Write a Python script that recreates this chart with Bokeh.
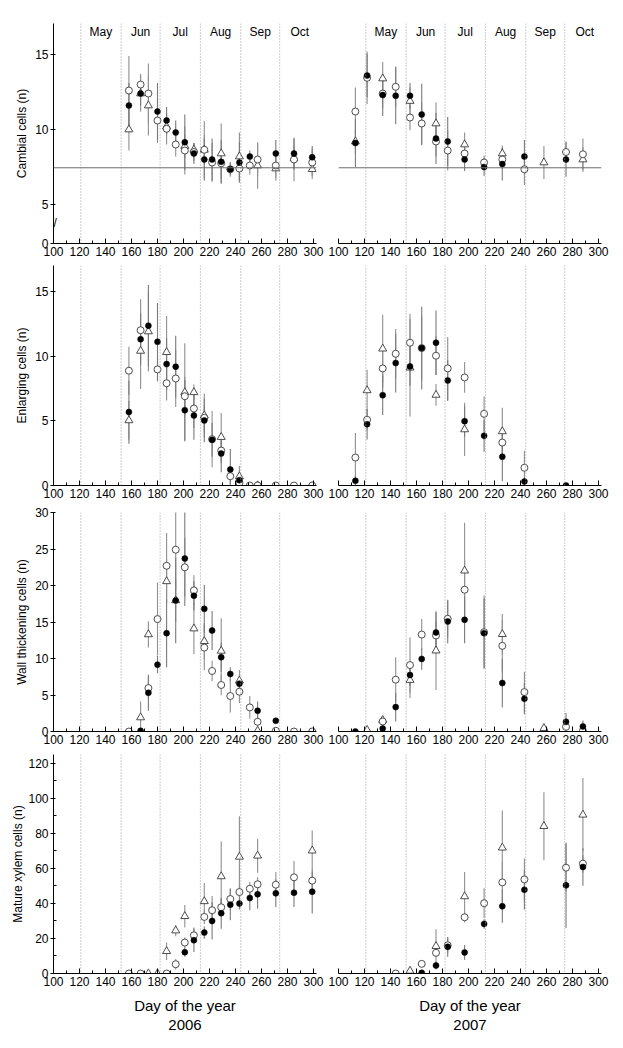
import numpy as np
from bokeh.plotting import figure
from bokeh.layouts import column, row
from bokeh.models import Span, FixedTicker, Label, Title
from bokeh.core.properties import value
from bokeh.embed import file_html
from bokeh.resources import INLINE

nan = float("nan")
FONT = "Liberation Sans"

# ---------------- data ----------------
days_2006 = [158, 167, 173, 180, 187, 194, 201, 208, 216, 222, 229, 236, 243, 251, 257, 271, 285, 299]
days_2007 = [113, 122, 134, 144, 155, 164, 175, 184, 197, 212, 226, 243, 258, 275, 288]

month_names = ["May", "Jun", "Jul", "Aug", "Sep", "Oct"]
month_starts = [121, 152, 182, 213, 244, 274, 305]
cambial_reference = 7.45

x_ticks = list(range(100, 301, 20))
x_minor = list(range(110, 300, 20))

# Cambial cells 2006
cam06_filled = [11.6, 12.4, nan, 11.2, 10.6, 9.8, 9.15, 8.4, 8.0, 8.0, 7.85, 7.35, 7.8, 8.2, nan, 8.4, 8.4, 8.15]
cam06_filled_sd = [1.5, 0.8, nan, 1.9, 0.9, 0.8, 1.85, 0.7, 1.4, 1.4, 1.45, 0.4, 1.35, 0.4, nan, 0.9, 1.0, 0.75]
cam06_open = [12.6, 13.0, 12.4, 10.6, 10.05, 9.0, 8.6, 8.5, 8.65, 7.8, 7.75, 7.35, 7.4, 7.6, 8.0, 7.6, 8.0, 7.8]
cam06_open_sd = [2.3, 0.7, 2.0, 1.5, 1.05, 0.8, 1.6, 0.6, 1.9, 1.3, 1.0, 0.5, 0.8, 0.6, 1.1, 0.8, 1.45, 0.9]
cam06_tri = [10.0, 12.4, 11.6, nan, 10.2, nan, 8.9, 8.65, 8.65, nan, 8.4, nan, 8.2, nan, 7.6, 7.4, 8.1, 7.35]
cam06_tri_sd = [1.4, 1.2, 2.0, nan, 0.6, nan, 0.8, 0.45, 1.0, nan, 2.0, nan, 1.6, nan, 1.55, 0.8, 0.8, 0.65]

# Cambial cells 2007
cam07_filled = [9.1, 13.6, 12.3, 12.25, 12.25, 11.0, 9.4, 9.2, 8.0, 7.5, 7.7, 8.2, nan, 8.0, nan]
cam07_filled_sd = [1.6, 1.45, 1.4, 1.9, 0.85, 2.05, 1.7, 1.64, 0.76, 0.6, 1.1, 1.1, nan, 1.15, nan]
cam07_open = [11.2, 13.45, 12.4, 12.85, 10.8, 10.4, 9.2, 8.6, 8.4, 7.8, 8.0, 7.35, nan, 8.5, 8.35]
cam07_open_sd = [1.6, 1.75, 1.0, 1.35, 0.85, 1.4, 1.0, 1.33, 0.6, 0.47, 0.6, 1.05, nan, 0.7, 1.05]
cam07_tri = [9.2, nan, 13.4, nan, 11.9, nan, 10.4, nan, 9.0, nan, 8.4, nan, 7.8, nan, 8.0]
cam07_tri_sd = [0.8, nan, 1.1, nan, 0.9, nan, 1.4, nan, 0.8, nan, 0.53, nan, 1.1, nan, 0.84]

# Enlarging cells 2006
enl06_filled = [5.67, 11.3, 12.35, 11.1, 9.38, 9.18, 5.82, 5.41, 5.03, 3.53, 2.47, 1.24, 0.41, nan, nan, nan, nan, nan]
enl06_filled_sd = [2.45, 2.0, 3.15, 3.0, 2.0, 2.39, 2.34, 1.88, 1.68, 1.3, 1.44, 1.59, 0.4, nan, nan, nan, nan, nan]
enl06_open = [8.87, 12.0, nan, 8.97, 7.9, 8.27, 6.9, 5.95, 5.23, 3.58, 2.7, 0.72, 0.2, 0, 0, 0, 0, 0]
enl06_open_sd = [1.85, 2.4, nan, 0.93, 1.33, 2.2, 1.5, 1.5, 1.0, 2.17, 1.0, 0.6, 0.2, 0, 0, 0, 0, 0]
enl06_tri = [5.03, 10.4, 11.9, nan, 10.3, nan, 7.2, 7.2, 5.41, nan, 3.74, nan, 0.7, nan, 0, nan, nan, nan]
enl06_tri_sd = [1.5, 2.95, 3.1, nan, 2.8, nan, 3.8, 0.6, 1.69, nan, 1.86, nan, 0.8, nan, 0, nan, nan, nan]

# Enlarging cells 2007
enl07_filled = [0.36, 4.74, 6.98, 9.46, 9.2, 10.62, 11.03, 8.12, 4.97, 3.84, 2.22, 0.31, nan, 0, nan]
enl07_filled_sd = [0.4, 1.18, 1.54, 2.27, 1.5, 3.2, 2.5, 1.6, 1.2, 1.24, 1.89, 0.3, nan, 0, nan]
enl07_open = [2.16, 5.08, 9.05, 10.18, 11.03, 10.62, 10.03, 9.05, 8.35, 5.54, 3.32, 1.37, nan, nan, nan]
enl07_open_sd = [1.89, 0.8, 1.5, 1.92, 2.24, 2.5, 1.5, 2.42, 1.19, 1.34, 1.2, 1.31, nan, nan, nan]
enl07_tri = [nan, 7.35, 10.57, nan, 9.1, nan, 7.0, nan, 4.33, nan, 4.18, nan, nan, nan, nan]
enl07_tri_sd = [nan, 1.59, 2.63, nan, 3.76, nan, 0.84, nan, 2.06, nan, 1.82, nan, nan, nan, nan]

# Wall thickening cells 2006
wal06_filled = [nan, 0.1, 5.3, 9.16, 13.47, 17.96, 23.7, 18.6, 16.8, 13.83, 10.17, 7.88, 6.55, nan, 2.84, 1.47, nan, nan]
wal06_filled_sd = [nan, 0.3, 2.46, 1.19, 4.67, 5.86, 6.5, 2.0, 3.3, 2.67, 2.0, 0.92, 1.0, nan, 1.26, 0.3, nan, nan]
wal06_open = [0, nan, 5.95, 15.4, 22.7, 24.9, 22.5, 19.33, 11.5, 8.29, 6.37, 4.86, 5.45, 3.3, 1.33, 0.1, 0, 0]
wal06_open_sd = [0, nan, 1.5, 5.0, 4.5, 5.5, 4.0, 2.07, 3.1, 1.39, 1.42, 2.26, 1.55, 1.55, 1.33, 0, 0, 0]
wal06_tri = [nan, 1.92, 13.3, nan, 20.57, 17.96, nan, 14.1, 12.37, nan, 11.04, nan, 6.96, nan, 0.1, nan, nan, nan]
wal06_tri_sd = [nan, 2.2, 1.8, nan, 3.0, 3.0, nan, 3.5, 2.5, nan, 4.46, nan, 1.47, nan, 0, nan, nan, nan]

# Wall thickening cells 2007
wal07_filled = [0, nan, 0.41, 3.34, 7.74, 9.94, 13.56, 15.07, 15.3, 13.47, 6.64, 4.49, nan, 1.33, 0.69]
wal07_filled_sd = [0, nan, 0.3, 1.97, 1.5, 1.47, 2.79, 2.97, 3.2, 4.77, 3.34, 2.11, nan, 1.2, 0.8]
wal07_open = [nan, nan, 1.37, 7.1, 9.1, 13.28, 13.15, 15.44, 19.42, 13.6, 11.73, 5.4, nan, 0.64, 0.1]
wal07_open_sd = [nan, nan, 0.5, 3.07, 3.8, 2.12, 2.0, 2.52, 4.0, 5.04, 3.5, 2.8, nan, 0.6, 0]
wal07_tri = [nan, 0.2, 1.56, nan, 7.05, nan, 11.08, nan, 22.03, nan, 13.33, nan, 0.46, nan, nan]
wal07_tri_sd = [nan, 0, 0.5, nan, 2.47, nan, 5.4, nan, 6.55, nan, 2.77, nan, 0, nan, nan]

# Mature xylem cells 2006
mat06_filled = [nan, nan, nan, nan, nan, nan, 12.15, 19.0, 23.35, 30.0, 34.4, 39.3, 39.9, 43.1, 45.2, 45.8, 46.1, 46.7]
mat06_filled_sd = [nan, nan, nan, nan, nan, nan, 2.65, 6.7, 3.45, 10.6, 8.8, 8.9, 3.3, 7.0, 8.2, 7.8, 8.1, 12.5]
mat06_open = [0, 0, nan, nan, 0, 5.3, 17.66, 21.8, 32.3, 36.1, 37.8, 42.5, 46.5, 48.4, 50.9, 50.7, 54.9, 53.0]
mat06_open_sd = [0, 0, nan, nan, 0, 3.0, 3.0, 4.4, 4.0, 8.1, 5.0, 6.1, 4.0, 3.8, 4.0, 7.2, 9.3, 5.0]
mat06_tri = [nan, nan, 0, 0, 12.7, 24.5, 32.7, nan, 41.2, nan, 55.4, nan, 66.6, nan, 67.2, nan, nan, 70.1]
mat06_tri_sd = [nan, nan, 0, 0, 5.0, 3.2, 6.4, nan, 10.4, nan, 20.0, nan, 23.2, nan, 9.7, nan, nan, 11.5]

# Mature xylem cells 2007
mat07_filled = [nan, nan, nan, nan, nan, 0.4, 4.56, 15.2, 12.0, 28.3, 38.4, 47.8, nan, 50.3, 60.8]
mat07_filled_sd = [nan, nan, nan, nan, nan, 0, 2.26, 5.7, 4.2, 2.7, 9.5, 11.2, nan, 24.3, 10.7]
mat07_open = [nan, nan, nan, 0, nan, 5.5, 11.8, 16.1, 32.1, 40.1, 52.0, 53.7, nan, 60.4, 62.7]
mat07_open_sd = [nan, nan, nan, 0, nan, 0, 2.0, 4.4, 3.0, 8.5, 12.0, 12.0, nan, 13.6, 5.0]
mat07_tri = [nan, nan, nan, nan, 1.5, nan, 15.6, nan, 44.0, nan, 71.8, nan, 84.1, nan, 90.6]
mat07_tri_sd = [nan, nan, nan, nan, 0, nan, 9.7, nan, 13.9, nan, 21.2, nan, 19.4, nan, 21.0]

# ---------------- layout config ----------------
row_titles = ["Cambial cells (n)", "Enlarging cells (n)", "Wall thickening cells (n)", "Mature xylem cells (n)"]
row_yrange = [(2.4, 17.07), (0, 17.0), (0, 30), (0, 125)]
row_yticks = [[2.4, 5, 10, 15], [0, 5, 10, 15], [0, 5, 10, 15, 20, 25, 30], [0, 20, 40, 60, 80, 100, 120]]
row_yminor = [[], [], [], [10, 30, 50, 70, 90, 110]]
row_borders = [(23, 20, 220), (2, 20, 220), (7, 20, 219), (3, 62, 219)]
row_label_standoff = [3, 3, 3, 0]

LEFT_B, RIGHT_B, FRAME_W = 53, 10, 263
RIGHT_PANEL_LB = 12

panel_data = [
    [(days_2006, cam06_filled, cam06_filled_sd, cam06_open, cam06_open_sd, cam06_tri, cam06_tri_sd),
     (days_2007, cam07_filled, cam07_filled_sd, cam07_open, cam07_open_sd, cam07_tri, cam07_tri_sd)],
    [(days_2006, enl06_filled, enl06_filled_sd, enl06_open, enl06_open_sd, enl06_tri, enl06_tri_sd),
     (days_2007, enl07_filled, enl07_filled_sd, enl07_open, enl07_open_sd, enl07_tri, enl07_tri_sd)],
    [(days_2006, wal06_filled, wal06_filled_sd, wal06_open, wal06_open_sd, wal06_tri, wal06_tri_sd),
     (days_2007, wal07_filled, wal07_filled_sd, wal07_open, wal07_open_sd, wal07_tri, wal07_tri_sd)],
    [(days_2006, mat06_filled, mat06_filled_sd, mat06_open, mat06_open_sd, mat06_tri, mat06_tri_sd),
     (days_2007, mat07_filled, mat07_filled_sd, mat07_open, mat07_open_sd, mat07_tri, mat07_tri_sd)],
]
years = ["2006", "2007"]

BAR_COLOR = "#8f8f8f"
EDGE = "#3a3a3a"


def make_panel(ri, ci):
    days, fv, fsd, ov, osd, tv, tsd = panel_data[ri][ci]
    top, bottom, fh = row_borders[ri]
    lb = LEFT_B if ci == 0 else RIGHT_PANEL_LB
    p = figure(width=lb + FRAME_W + RIGHT_B, height=top + fh + bottom,
               x_range=(100, 302.3), y_range=row_yrange[ri],
               output_backend="svg", toolbar_location=None,
               min_border_left=lb, min_border_right=RIGHT_B,
               min_border_top=top, min_border_bottom=bottom)
    p.outline_line_color = None
    p.grid.visible = False
    p.background_fill_color = "white"
    p.border_fill_color = "white"

    # month boundaries
    for s in month_starts[:-1]:
        p.add_layout(Span(location=s, dimension="height", line_color="#9a9a9a",
                          line_width=1, line_dash="1 2"))
    if ri == 0:
        p.add_layout(Span(location=cambial_reference, dimension="width",
                          line_color="#6e6e6e", line_width=1))
        mids = [(a + b) / 2 for a, b in zip(month_starts[:-1], month_starts[1:])]
        p.text(x=mids, y=[16.5] * len(mids), text=month_names,
               text_font=value(FONT), text_font_size="12px", text_color="black",
               text_align="center", text_baseline="middle")

    d = np.array(days, dtype=float)
    for vals, sds, col in ((tv, tsd, BAR_COLOR), (ov, osd, BAR_COLOR), (fv, fsd, "#7a7a7a")):
        v = np.array(vals, dtype=float)
        s = np.array(sds, dtype=float)
        p.segment(x0=d, y0=v - s, x1=d, y1=v + s, line_color=col, line_width=1.1)

    p.scatter(x=d, y=np.array(tv, dtype=float), marker="triangle", size=8,
              fill_color="white", line_color=EDGE, line_width=0.9)
    p.scatter(x=d, y=np.array(ov, dtype=float), marker="circle", size=7,
              fill_color="white", line_color=EDGE, line_width=0.9)
    p.scatter(x=d, y=np.array(fv, dtype=float), marker="circle", size=6,
              fill_color="black", line_color="black", line_width=0.5)

    # x axis
    xa = p.xaxis[0]
    xa.ticker = FixedTicker(ticks=x_ticks, minor_ticks=x_minor)
    xa.major_label_text_font = FONT
    xa.major_label_text_font_size = "12px"
    xa.major_label_text_color = "black"
    xa.axis_line_color = "black"
    xa.major_tick_line_color = "black"
    xa.minor_tick_line_color = "black"
    xa.major_tick_in = 5
    xa.major_tick_out = 0
    xa.minor_tick_in = 3
    xa.minor_tick_out = 0
    xa.major_label_standoff = 3
    if ri == 3:
        xa.axis_label = "Day of the year"
        xa.axis_label_text_font = FONT
        xa.axis_label_text_font_size = "15px"
        xa.axis_label_text_font_style = "normal"
        xa.axis_label_text_color = "black"
        xa.axis_label_standoff = 8
        p.add_layout(Title(text=years[ci], align="center", text_font=FONT,
                           text_font_size="15px", text_font_style="normal",
                           text_color="black", standoff=3), "below")

    # y axis
    ya = p.yaxis[0]
    if ci == 0:
        ya.ticker = FixedTicker(ticks=row_yticks[ri], minor_ticks=row_yminor[ri])
        if ri == 0:
            ya.major_label_overrides = {2.4: "0"}
        ya.major_label_text_font = FONT
        ya.major_label_text_font_size = "12px"
        ya.major_label_text_color = "black"
        ya.axis_line_color = "black"
        ya.major_tick_line_color = "black"
        ya.minor_tick_line_color = "black"
        ya.major_tick_out = 3
        ya.major_tick_in = 2
        ya.minor_tick_in = 3
        ya.minor_tick_out = 0
        ya.major_label_standoff = 2
        ya.axis_label = row_titles[ri]
        ya.axis_label_text_font = FONT
        ya.axis_label_text_font_size = "12px"
        ya.axis_label_text_font_style = "normal"
        ya.axis_label_text_color = "black"
        ya.axis_label_standoff = row_label_standoff[ri]
        if ri == 0:
            p.add_layout(Label(x=100, y=3.8, text="//", text_font=FONT,
                               text_font_size="12px", text_align="center",
                               text_baseline="middle", text_color="black"))
    else:
        ya.visible = False
    return p


rows = []
for ri in range(4):
    rows.append(row(make_panel(ri, 0), make_panel(ri, 1)))
layout = column(*rows)

open("out.html", "w").write(file_html(layout, INLINE))
